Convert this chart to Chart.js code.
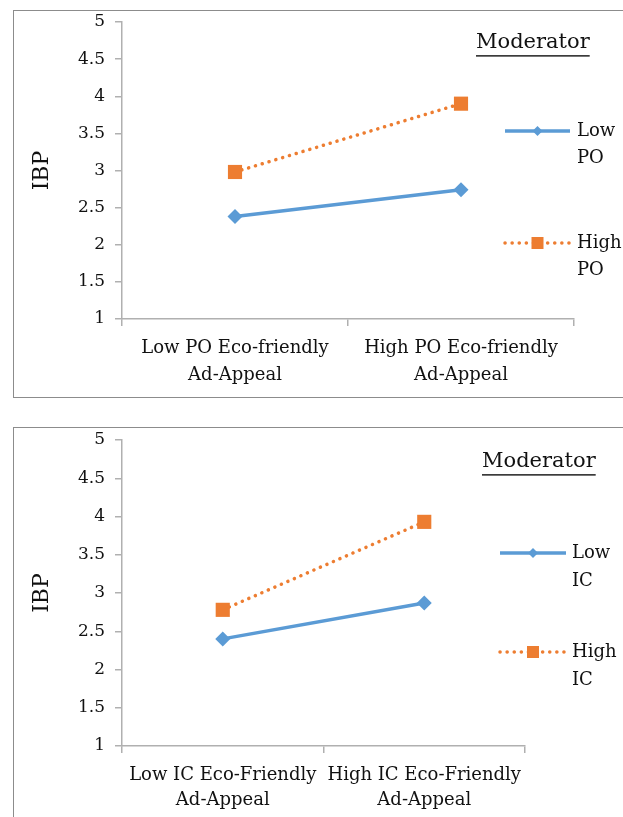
<!DOCTYPE html>
<html>
<head>
<meta charset="utf-8">
<script src="https://cdn.jsdelivr.net/npm/chart.js@4.4.1/dist/chart.umd.min.js"></script>
<style>
  html, body { margin: 0; padding: 0; background: #fff; overflow: hidden; width: 623px; height: 817px; }
  .box { position: absolute; border: 1px solid #8c8c8c; background: #fff; }
  #box1 { left: 13px; top: 10px; width: 620px; height: 386px; }
  #box2 { left: 13px; top: 427px; width: 620px; height: 400px; }
  canvas { display: block; }
</style>
</head>
<body>
<div class="box" id="box1"><canvas id="c1" width="620" height="386"></canvas></div>
<div class="box" id="box2"><canvas id="c2" width="620" height="400"></canvas></div>
<script>
// ---------- data ----------
const categories1 = [["Low PO Eco-friendly", "Ad-Appeal"], ["High PO Eco-friendly", "Ad-Appeal"]];
const seriesNames1 = ["Low PO", "High PO"];
const lowPO = [2.38, 2.74];
const highPO = [2.98, 3.90];

const categories2 = [["Low IC Eco-Friendly", "Ad-Appeal"], ["High IC Eco-Friendly", "Ad-Appeal"]];
const seriesNames2 = ["Low IC", "High IC"];
const lowIC = [2.40, 2.87];
const highIC = [2.78, 3.93];

const yMin = 1, yMax = 5, yStep = 0.5;
const yTitle = "IBP";
const legendTitle = "Moderator";

// ---------- styles ----------
const BLUE = '#5B9BD5';
const ORANGE = '#ED7D31';
const AXIS = '#b0b0b0';
const TEXT = '#111';
const FONT = "'DejaVu Serif', serif";

Chart.defaults.font.family = FONT;
Chart.defaults.color = TEXT;

const legendPlugin = {
  id: 'modLegend',
  afterDraw(chart, args, o) {
    const ctx = chart.ctx;
    ctx.save();
    ctx.fillStyle = TEXT;
    ctx.textBaseline = 'middle';
    ctx.textAlign = 'left';
    ctx.font = o.titleSize + 'px ' + FONT;
    ctx.fillText(o.title, o.titleX, o.titleY);
    const w = ctx.measureText(o.title).width;
    ctx.fillRect(o.titleX, o.titleY + o.titleSize * 0.58, w, 1.4);
    chart.data.datasets.forEach((ds, i) => {
      const y = o.itemY[i];
      ctx.save();
      ctx.strokeStyle = ds.borderColor;
      ctx.lineWidth = ds.borderWidth;
      ctx.setLineDash(ds.borderDash || []);
      ctx.lineCap = ds.borderCapStyle || 'butt';
      ctx.beginPath();
      ctx.moveTo(o.lineX0, y);
      ctx.lineTo(o.lineX1, y);
      ctx.stroke();
      ctx.restore();
      const mx = (o.lineX0 + o.lineX1) / 2;
      ctx.save();
      ctx.fillStyle = ds.pointBackgroundColor;
      ctx.beginPath();
      if (ds.pointStyle === 'rectRot') {
        const r = o.diamondR;
        ctx.moveTo(mx - r, y); ctx.lineTo(mx, y - r); ctx.lineTo(mx + r, y); ctx.lineTo(mx, y + r);
        ctx.closePath();
      } else {
        const s = o.squareS;
        ctx.rect(mx - s, y - s, 2 * s, 2 * s);
      }
      ctx.fill();
      ctx.restore();
      ctx.font = o.textSize + 'px ' + FONT;
      ctx.fillStyle = TEXT;
      const parts = ds.label.split(' ');
      parts.forEach((p, k) => ctx.fillText(p, o.textX, y + k * o.textLine));
    });
    ctx.restore();
  }
};

function makeChart(id, cats, names, s1, s2, geo) {
  return new Chart(document.getElementById(id), {
    type: 'line',
    data: {
      labels: cats,
      datasets: [
        { label: names[0], data: s1, borderColor: BLUE, backgroundColor: BLUE, borderWidth: 3.5,
          pointStyle: 'rectRot', pointRadius: 7.5, pointBackgroundColor: BLUE, pointBorderColor: BLUE,
          pointBorderWidth: 0, tension: 0 },
        { label: names[1], data: s2, borderColor: ORANGE, backgroundColor: ORANGE, borderWidth: 3.5,
          borderDash: [0.1, 7], borderCapStyle: 'round',
          pointStyle: 'rect', pointRadius: 10, pointBackgroundColor: ORANGE, pointBorderColor: ORANGE,
          pointBorderWidth: 0, tension: 0 }
      ]
    },
    options: {
      responsive: false,
      animation: false,
      devicePixelRatio: 1,
      layout: { padding: { left: 0, top: geo.top, right: geo.right, bottom: 0 } },
      plugins: {
        legend: { display: false },
        tooltip: { enabled: false },
        modLegend: geo.legend
      },
      scales: {
        x: {
          type: 'category',
          offset: true,
          grid: { display: true, offset: true, drawOnChartArea: false, drawTicks: true, tickLength: 7, color: AXIS, lineWidth: 1.5 },
          border: { display: true, color: AXIS, width: 1.5 },
          ticks: { font: { size: 18, lineHeight: geo.xLine / 18 }, color: TEXT, padding: geo.xPad, maxRotation: 0, autoSkip: false },
          afterFit: (s) => { s.height = geo.xHeight; s.paddingLeft = 0; s.paddingRight = 0; }
        },
        y: {
          min: yMin, max: yMax,
          grid: { display: true, drawOnChartArea: false, drawTicks: true, tickLength: 7, color: AXIS, lineWidth: 1.5 },
          border: { display: true, color: AXIS, width: 1.5 },
          ticks: { stepSize: yStep, font: { size: 17 }, color: TEXT, padding: 10,
                   callback: (v) => String(Math.round(v * 10) / 10) },
          title: { display: true, text: yTitle, font: { size: 22 }, color: TEXT, padding: { top: 15, bottom: 0 } },
          afterFit: (s) => { s.width = 108; s.paddingTop = 0; s.paddingBottom = 0; }
        }
      }
    },
    plugins: [legendPlugin]
  });
}

makeChart('c1', categories1, seriesNames1, lowPO, highPO, {
  top: 11, right: 60, xHeight: 78, xPad: 9, xLine: 27,
  legend: { title: legendTitle, titleSize: 21, titleX: 462, titleY: 32,
            itemY: [120, 232], lineX0: 491, lineX1: 556, diamondR: 5, squareS: 6,
            textX: 563, textSize: 18, textLine: 27 }
});
makeChart('c2', categories2, seriesNames2, lowIC, highIC, {
  top: 12, right: 109, xHeight: 82, xPad: 10, xLine: 25,
  legend: { title: legendTitle, titleSize: 21, titleX: 468, titleY: 34,
            itemY: [125, 224], lineX0: 486, lineX1: 552, diamondR: 5, squareS: 6,
            textX: 558, textSize: 18, textLine: 28 }
});
</script>
</body>
</html>
